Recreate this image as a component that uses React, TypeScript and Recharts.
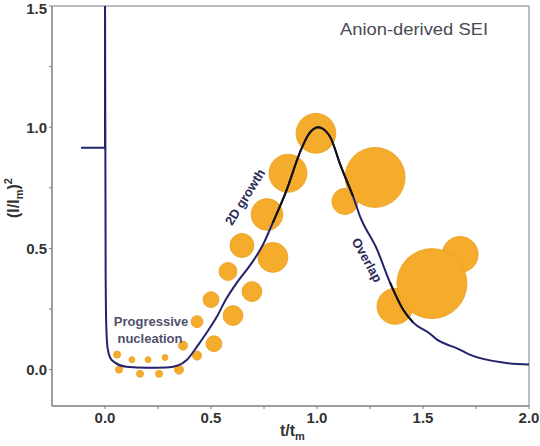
import {
  ComposedChart,
  ReferenceArea,
  Scatter,
  XAxis,
  YAxis,
  ZAxis,
} from "recharts";

// normalised current transient (I/Im)^2 vs t/tm
const curveX = [
  0, 0.003, 0.006, 0.012, 0.025, 0.047, 0.1, 0.2, 0.29, 0.34, 0.387, 0.434,
  0.48, 0.528, 0.57, 0.623, 0.684, 0.745, 0.792, 0.858, 0.92, 0.96, 1.005,
  1.04, 1.065, 1.108, 1.17, 1.203, 1.283, 1.344, 1.406, 1.453, 1.533, 1.566,
  1.627, 1.66, 1.72, 1.877, 2.0,
];
const curveY = [
  1.6, 0.4, 0.18, 0.09, 0.048, 0.029, 0.012, 0.008, 0.009, 0.016, 0.041,
  0.095, 0.153, 0.219, 0.289, 0.36, 0.43, 0.515, 0.607, 0.744, 0.897, 0.97,
  1.0, 0.985, 0.955, 0.85, 0.715, 0.632, 0.496, 0.36, 0.248, 0.195, 0.148,
  0.124, 0.099, 0.088, 0.062, 0.029, 0.021,
];

// the step before t = 0
const stepX = [-0.113, 0, 0];
const stepY = [0.915, 0.915, 1.6];

// nuclei cartoon: position and relative size
const bubbleX = [
  0.066, 0.165, 0.255, 0.349, 0.057, 0.127, 0.203, 0.283, 0.368, 0.434, 0.434,
  0.5, 0.514, 0.58, 0.604, 0.646, 0.693, 0.764, 0.792, 0.863, 0.995, 1.132,
  1.274, 1.368, 1.675, 1.542,
];
const bubbleY = [
  0, -0.017, -0.017, 0, 0.062, 0.041, 0.041, 0.05, 0.099, 0.058, 0.198, 0.289,
  0.107, 0.405, 0.223, 0.512, 0.322, 0.64, 0.463, 0.81, 0.975, 0.694, 0.793,
  0.261, 0.475, 0.355,
];
const bubbleZ = [
  1.4, 1.4, 1.4, 2.3, 1.4, 1, 1, 1, 2.3, 2.3, 4, 7, 7, 9, 11, 16, 11, 28, 25,
  40, 44, 19, 100, 36, 36, 136,
];

const xTicks = [0, 0.25, 0.5, 0.75, 1, 1.25, 1.5, 1.75, 2];
const yTicks = [0, 0.25, 0.5, 0.75, 1, 1.25, 1.5];

const curve = curveX.map((x, i) => ({ x, y: curveY[i] }));
const step = stepX.map((x, i) => ({ x, y: stepY[i] }));
const bubbles = bubbleX.map((x, i) => ({ x, y: bubbleY[i], z: bubbleZ[i] }));
// where the curve crosses the nuclei it prints almost black
const peakDark = curve.filter((p) => p.x >= 0.78 && p.x <= 1.18);
const tailDark = curve.filter((p) => p.x >= 1.34 && p.x <= 1.46);

const FONT = "'Liberation Sans', Arial, sans-serif";
const NAVY = "#22226e";
const AXIS = "#7c7c84";

const fmt = (v: number) => (Math.abs(v * 2 - Math.round(v * 2)) < 1e-6 ? v.toFixed(1) : "");
const noDot = () => <g />;

export default function App() {
  const tick = { fill: "#333", fontSize: 15, fontWeight: "bold", fontFamily: FONT };
  return (
    <div style={{ position: "absolute", left: 0, top: 0, width: 540, height: 446, background: "#fff" }}>
      <ComposedChart width={540} height={446} margin={{ top: 6, right: 11, bottom: 0, left: 0 }}>
        <XAxis
          dataKey="x"
          type="number"
          domain={[-0.25, 2]}
          ticks={xTicks}
          tickFormatter={fmt}
          allowDataOverflow
          height={40}
          stroke={AXIS}
          tickSize={3}
          tickMargin={3}
          tick={tick}
        />
        <YAxis
          dataKey="y"
          type="number"
          domain={[-0.15, 1.5]}
          ticks={yTicks}
          tickFormatter={fmt}
          allowDataOverflow
          width={52}
          stroke={AXIS}
          tickSize={3}
          tickMargin={2}
          tick={tick}
        />
        <ZAxis dataKey="z" type="number" domain={[0, 136]} range={[0, 3848]} />
        <ReferenceArea x1={-0.25} x2={2} y1={-0.15} y2={1.5} fill="none" stroke={AXIS} strokeWidth={1} />
        <Scatter
          data={bubbles}
          fill="#f5ab2b"
          stroke="#eaa020"
          strokeWidth={0.8}
          isAnimationActive={false}
        />
        <Scatter
          data={step}
          fill="none"
          line={{ stroke: NAVY, strokeWidth: 2 }}
          lineJointType="linear"
          shape={noDot}
          isAnimationActive={false}
        />
        <Scatter
          data={curve}
          fill="none"
          line={{ stroke: NAVY, strokeWidth: 2 }}
          lineJointType="monotoneX"
          shape={noDot}
          isAnimationActive={false}
        />
        <Scatter
          data={peakDark}
          fill="none"
          line={{ stroke: "#111", strokeWidth: 2 }}
          lineJointType="monotoneX"
          shape={noDot}
          isAnimationActive={false}
        />
        <Scatter
          data={tailDark}
          fill="none"
          line={{ stroke: "#111", strokeWidth: 2 }}
          lineJointType="monotoneX"
          shape={noDot}
          isAnimationActive={false}
        />
      </ComposedChart>
      <svg
        width={540}
        height={446}
        style={{ position: "absolute", left: 0, top: 0, pointerEvents: "none" }}
        fontFamily={FONT}
      >
        <text x={340} y={35} fontSize={16} fill="#4a4a55" textLength={148} lengthAdjust="spacingAndGlyphs">
          Anion-derived SEI
        </text>
        <text x={151} y={326} fontSize={13} fontWeight="bold" fill="#50506c" textAnchor="middle">
          Progressive
        </text>
        <text x={150} y={343} fontSize={13} fontWeight="bold" fill="#50506c" textAnchor="middle">
          nucleation
        </text>
        <text
          x={245}
          y={197}
          dy="0.35em"
          fontSize={13}
          fontWeight="bold"
          fill="#2b2b58"
          textAnchor="middle"
          transform="rotate(-58 245 197)"
        >
          2D growth
        </text>
        <text
          x={367}
          y={260}
          dy="0.35em"
          fontSize={13}
          fontWeight="bold"
          fill="#2b2b58"
          textAnchor="middle"
          transform="rotate(61 367 260)"
        >
          Overlap
        </text>
        <text x={280} y={436} fontSize={16} fontWeight="bold" fill="#333">
          t/t
          <tspan fontSize={11} dy={4}>m</tspan>
        </text>
        <text
          x={19}
          y={218}
          fontSize={16}
          fontWeight="bold"
          fill="#333"
          transform="rotate(-90 19 218)"
        >
          (I/I
          <tspan fontSize={11} dy={4}>m</tspan>
          <tspan dy={-4}>)</tspan>
          <tspan fontSize={11} dy={-7}>2</tspan>
        </text>
      </svg>
    </div>
  );
}
